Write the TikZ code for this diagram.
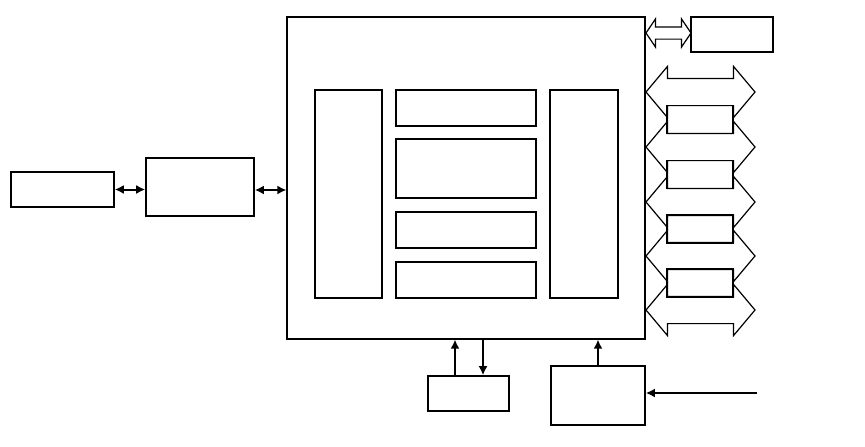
\documentclass[tikz,border=0pt]{standalone}
\usepackage{tikz}
\usetikzlibrary{arrows.meta,positioning,calc,shapes.arrows}

\tikzset{
  blk/.style={draw,line width=1.6pt,inner sep=0pt},
  conn/.style={line width=2pt,-{Latex[length=9pt,width=9pt]}},
  dconn/.style={line width=2pt,{Latex[length=9pt,width=9pt]}-{Latex[length=9pt,width=9pt]}},
  fatarrow/.style={draw,line width=1.2pt,double arrow,inner xsep=0pt,inner ysep=13pt,
    double arrow head extend=12pt,double arrow tip angle=100,minimum height=109pt}
}

\begin{document}
\begin{tikzpicture}[x=1pt,y=-1pt]
\useasboundingbox (0,0) rectangle (865,447);
% main block
\node[draw,line width=1.2pt,minimum width=358pt,minimum height=322pt,inner sep=0pt] (main) at (466,178) {};
% inner blocks
\node[blk,minimum width=67pt,minimum height=208pt] (bufL) at (348.5,194) {};
\node[blk,minimum width=140pt,minimum height=36pt] (unitA) at (466,108) {};
\node[blk,minimum width=140pt,minimum height=59pt] (unitB) at (466,168.5) {};
\node[blk,minimum width=140pt,minimum height=36pt] (unitC) at (466,230) {};
\node[blk,minimum width=140pt,minimum height=36pt] (unitD) at (466,280) {};
\node[blk,minimum width=68pt,minimum height=208pt] (bufR) at (584,194) {};
% left chain
\node[blk,minimum width=103pt,minimum height=35pt] (host) at (62.5,189.5) {};
\node[blk,minimum width=108pt,minimum height=58pt] (iface) at (200,187) {};
\draw[dconn] (host.east) -- (host.east -| iface.west);
\draw[dconn] ([yshift=-3pt]iface.east) -- ([yshift=-3pt]iface.east -| main.west);
% top right
\node[blk,minimum width=82pt,minimum height=35pt] (ext) at (732,34.5) {};
\node[draw,line width=1.2pt,double arrow,inner xsep=0pt,inner ysep=5.5pt,
  double arrow head extend=8pt,double arrow tip angle=112,minimum height=45pt] (link) at (668.5,33) {};
% right side ports
\foreach \i/\y in {1/92,2/147,3/202,4/256,5/310}
  \node[fatarrow] (port\i) at (700.5,\y) {};
\foreach \i/\y in {1/119.5,2/174.5,3/229,4/283}
  \node[blk,minimum width=66pt,minimum height=28pt] (reg\i) at (700,\y) {};
% bottom blocks
\node[blk,minimum width=81pt,minimum height=35pt] (mem) at (468.5,393.5) {};
\draw[conn] ([xshift=-13.5pt]mem.north) -- ([xshift=-13.5pt]mem.north |- main.south);
\draw[conn] ([xshift=14.5pt]mem.north |- main.south) -- ([xshift=14.5pt]mem.north);
\node[blk,minimum width=94pt,minimum height=59pt] (ctrl) at (598,395.5) {};
\draw[conn] (ctrl.north) -- (ctrl.north |- main.south);
\coordinate (in) at (757,393);
\draw[conn] (in) -- (in -| ctrl.east);
\end{tikzpicture}
\end{document}
